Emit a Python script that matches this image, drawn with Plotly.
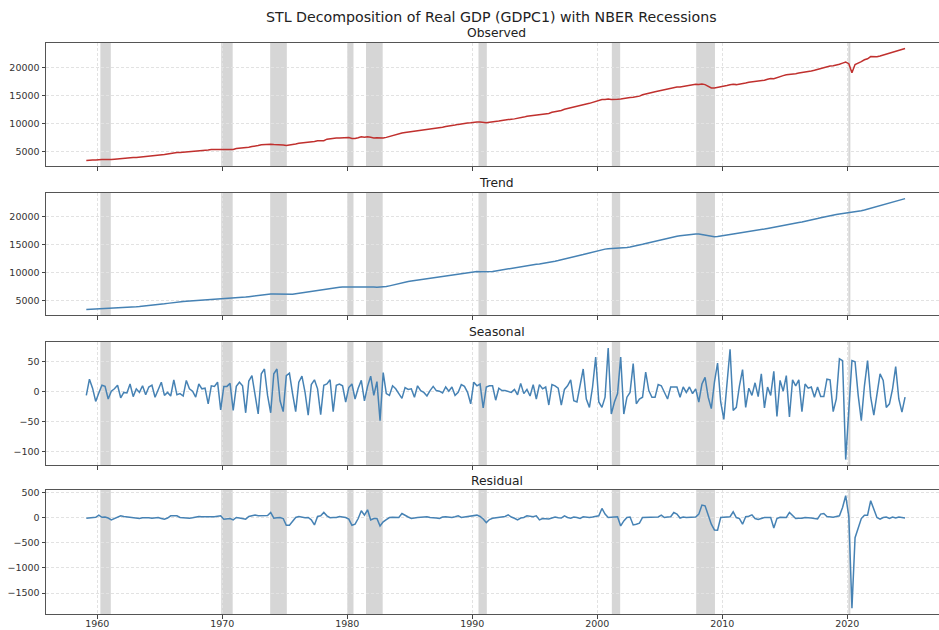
import numpy as np
import pandas as pd
import plotly.graph_objects as go
from plotly.subplots import make_subplots

# ---------------------------------------------------------------------------
# Real GDP (GDPC1, billions of chained 2017 dollars), quarterly 1959Q1-2024Q3,
# and its STL components (trend / seasonal / residual).
# ---------------------------------------------------------------------------
quarters = pd.period_range("1959Q1", "2024Q3", freq="Q")

observed = [
    3352, 3428, 3430, 3440, 3517, 3498, 3515, 3470, 3494, 3553, 3621, 3692,
    3758, 3792, 3839, 3852, 3894, 3938, 4024, 4050, 4136, 4180, 4246, 4259,
    4362, 4417, 4515, 4620, 4732, 4748, 4788, 4827, 4870, 4873, 4919, 4957,
    5058, 5142, 5180, 5202, 5293, 5311, 5346, 5317, 5308, 5317, 5370, 5311,
    5485, 5522, 5580, 5598, 5722, 5853, 5911, 6008, 6164, 6224, 6192, 6256,
    6203, 6206, 6141, 6121, 6025, 6070, 6182, 6277, 6412, 6461, 6494, 6539,
    6611, 6737, 6860, 6861, 6888, 7158, 7247, 7339, 7357, 7363, 7416, 7437,
    7458, 7296, 7280, 7414, 7574, 7506, 7585, 7492, 7375, 7409, 7380, 7383,
    7479, 7652, 7804, 7969, 8133, 8260, 8341, 8409, 8492, 8561, 8708, 8777,
    8876, 8911, 9003, 9041, 9103, 9207, 9284, 9437, 9495, 9624, 9683, 9809,
    9919, 9995, 10078, 10103, 10210, 10244, 10238, 10147, 10100, 10189, 10235, 10284,
    10402, 10514, 10622, 10733, 10743, 10798, 10861, 11012, 11114, 11259, 11320, 11450,
    11485, 11508, 11605, 11696, 11774, 11969, 12067, 12219, 12307, 12514, 12669, 12776,
    12900, 12996, 13150, 13370, 13482, 13580, 13761, 13980, 14020, 14261, 14275, 14357,
    14293, 14368, 14325, 14368, 14493, 14561, 14626, 14655, 14741, 14878, 15131, 15300,
    15390, 15525, 15658, 15792, 15964, 16051, 16182, 16270, 16478, 16515, 16534, 16651,
    16711, 16815, 16927, 17025, 16942, 17038, 16942, 16592, 16346, 16323, 16403, 16561,
    16633, 16776, 16904, 16998, 16938, 17033, 17031, 17226, 17377, 17436, 17465, 17488,
    17664, 17714, 17902, 18047, 17994, 18227, 18446, 18549, 18700, 18812, 18884, 18905,
    19008, 19070, 19172, 19283, 19387, 19503, 19646, 19873, 20061, 20184, 20274, 20307,
    20398, 20580, 20793, 20985, 20693, 19057, 20549, 20772, 21058, 21389, 21571, 21960,
    21904, 21919, 22067, 22250, 22403, 22539, 22781, 22961, 23054, 23224, 23400,
]

trend = [
    3390, 3420, 3445, 3465, 3480, 3490, 3495, 3500, 3515, 3545, 3590, 3640,
    3700, 3755, 3800, 3840, 3880, 3925, 3975, 4025, 4085, 4145, 4205, 4270,
    4340, 4420, 4505, 4590, 4665, 4725, 4780, 4825, 4865, 4900, 4940, 4985,
    5040, 5100, 5155, 5205, 5250, 5285, 5310, 5320, 5330, 5345, 5375, 5410,
    5460, 5515, 5570, 5630, 5705, 5790, 5880, 5970, 6055, 6120, 6160, 6180,
    6180, 6160, 6125, 6095, 6080, 6100, 6160, 6240, 6330, 6410, 6480, 6545,
    6620, 6710, 6800, 6890, 6980, 7080, 7180, 7270, 7340, 7390, 7420, 7430,
    7425, 7415, 7420, 7445, 7480, 7505, 7510, 7480, 7440, 7410, 7405, 7440,
    7520, 7640, 7790, 7950, 8100, 8230, 8340, 8430, 8510, 8590, 8680, 8770,
    8860, 8940, 9010, 9070, 9140, 9220, 9310, 9410, 9510, 9610, 9710, 9810,
    9910, 10000, 10075, 10135, 10180, 10200, 10195, 10175, 10165, 10185, 10240, 10320,
    10420, 10520, 10620, 10705, 10780, 10855, 10940, 11035, 11140, 11245, 11345, 11435,
    11510, 11580, 11655, 11740, 11840, 11950, 12065, 12180, 12300, 12430, 12560, 12690,
    12820, 12960, 13110, 13260, 13410, 13570, 13730, 13880, 14020, 14140, 14230, 14290,
    14320, 14340, 14365, 14400, 14460, 14535, 14620, 14710, 14820, 14950, 15090, 15230,
    15370, 15510, 15650, 15790, 15930, 16060, 16190, 16310, 16420, 16520, 16610, 16700,
    16790, 16870, 16930, 16960, 16950, 16860, 16720, 16580, 16490, 16460, 16480, 16540,
    16630, 16730, 16830, 16920, 17000, 17080, 17170, 17260, 17350, 17440, 17530, 17620,
    17720, 17830, 17940, 18060, 18180, 18300, 18420, 18530, 18640, 18740, 18830, 18920,
    19010, 19100, 19200, 19310, 19430, 19560, 19700, 19840, 19980, 20110, 20230, 20340,
    20440, 20530, 20600, 20660, 20700, 20760, 20850, 20960, 21090, 21230, 21380, 21530,
    21680, 21830, 21980, 22130, 22280, 22430, 22590, 22750, 22920, 23100, 23280,
]

seasonal = [
    -7, 20, 5, -17, -3, 10, 8, -13, 0, 4, 10, -11,
    -2, -3, 12, -9, 4, -2, 9, -6, 7, 10, -10, 2,
    15, -7, -2, -8, 19, -6, -4, -8, 18, 4, 0, -10,
    12, 4, 5, -21, 9, 8, 15, -31, 8, 8, 13, -32,
    8, 15, 9, -36, 17, 26, -7, -38, 29, 37, -7, -36,
    29, 37, -16, -34, 26, 30, -4, -34, 15, 25, -2, -40,
    11, 19, 4, -39, 10, 12, 19, -34, 10, 12, 9, -18,
    6, 12, -13, 5, 18, -16, 8, 25, -7, 16, -49, 31,
    -4, -7, 9, 4, -4, -12, 6, 3, 4, -10, 9, 1,
    -2, -8, 1, 8, 1, 0, -3, 7, 0, 7, -7, -2,
    11, 8, -2, -21, 15, 9, 12, -28, 7, 9, 9, -15,
    5, 1, 1, 0, -2, 3, -6, 13, -4, 3, -8, 11,
    -13, 11, 4, 7, -23, 11, 9, 5, -23, 3, 9, 19,
    -16, -18, 7, 37, -13, -27, 7, 57, -18, -27, -10, 72,
    -38, -18, -4, 57, -38, -10, -2, 46, -21, -13, -10, 32,
    1, -10, -10, 11, 9, -2, -13, 7, 7, 7, -10, 7,
    -2, 7, -4, 4, -18, 12, 23, -10, -29, 15, 47, -18,
    -47, 15, 70, -32, -27, 9, 36, -27, 5, -7, 14, -9,
    29, -28, 7, -7, 33, -42, 18, 0, 26, -43, 19, 9,
    19, -34, 12, 5, 7, -10, 7, -9, -9, 20, 19, -34,
    -13, 54, 51, -114, -30, 51, 49, -7, -49, 9, 51, -10,
    -40, -2, 29, 18, -27, -21, 4, 41, -13, -35, -10,
]

residual = [
    -13, -5, 0, 5, 47, 5, 10, -10, -47, -20, 10, 33,
    20, 10, 5, 0, -10, -20, -5, 0, -5, -15, -10, 0,
    -20, -33, -10, 33, 33, 33, 0, -10, -20, -15, -5, 10,
    20, 15, 15, 10, 13, 15, 25, 33, -33, -25, -20, -47,
    0, -10, -15, -33, 20, 35, 47, 33, 33, 35, 40, 100,
    -13, -5, 0, -20, -153, -153, -67, 0, 20, 10, -5, 0,
    -47, -147, 20, 33, 100, 33, -5, 0, 0, 20, 10, 0,
    -33, -153, -133, -20, 133, 47, 153, -47, -20, -20, -167, -87,
    -40, 0, 5, 10, 0, 80, 40, 10, -20, -5, 0, 5,
    10, 15, 0, 0, -10, -20, 10, 15, 0, 0, 15, 33,
    0, 10, 15, 20, 40, 47, 20, -30, -100, -40, -15, -10,
    -5, 0, 20, 53, 10, -15, -47, -10, 0, 33, 20, 15,
    33, -47, -20, -20, -30, -10, 10, -5, -10, 33, 0, -15,
    10, 0, -20, 15, 0, 0, 10, 15, 33, 180, 67, 0,
    0, 10, 15, -167, -67, 0, 10, -147, -133, -113, 0, 0,
    0, 0, 5, 10, 47, 0, 10, 15, 100, 70, -10, 10,
    0, 0, 0, 10, 67, 247, 233, 67, -133, -247, -253, 0,
    10, 10, 15, 113, 0, -20, -133, 15, 25, 53, -20, -40,
    -20, 0, 0, 0, -207, -20, 5, 0, 0, 100, 30, -20,
    -15, -15, 0, 0, -10, -20, -30, 67, 80, 20, 10, 5,
    20, 33, 200, 433, 20, -1800, -400, -200, -20, 47, 47, 333,
    153, 0, -33, 0, 10, -20, 10, -10, 10, 5, -10,
]

# NBER recession periods (peak month, trough month)
recessions = [
    ("1960-04", "1961-02"), ("1969-12", "1970-11"), ("1973-11", "1975-03"),
    ("1980-01", "1980-07"), ("1981-07", "1982-11"), ("1990-07", "1991-03"),
    ("2001-03", "2001-11"), ("2007-12", "2009-06"), ("2020-02", "2020-04"),
]

panel_titles = ["Observed", "Trend", "Seasonal", "Residual"]
decade_ticks = [1960, 1970, 1980, 1990, 2000, 2010, 2020]

for s in (observed, trend, seasonal, residual):
    assert len(s) == len(quarters)

# quarter positions on a decimal-year axis (middle of each quarter)
xq = np.asarray(quarters.year + (quarters.quarter - 1) / 4 + 0.125, dtype=float)


def year_frac(ym):
    ts = pd.Timestamp(ym + "-01")
    return ts.year + (ts.month - 1) / 12


RED = "#c0302e"
BLUE = "#4682b4"
FONT = "DejaVu Sans"
W, H = 939, 630

fig = make_subplots(rows=4, cols=1, shared_xaxes=True)

series = [observed, trend, seasonal, residual]
colors = [RED, BLUE, BLUE, BLUE]
for r, (vals, col) in enumerate(zip(series, colors), start=1):
    fig.add_trace(
        go.Scatter(x=xq, y=vals, mode="lines",
                   line=dict(color=col, width=1.5), showlegend=False),
        row=r, col=1,
    )

# panel placement in pixels (top, bottom)
panels_px = [(43, 166), (193, 315), (342, 465), (490, 614)]
left_px = 46
y_ranges = [[2350, 24400], [2420, 24290], [-123, 82], [-1915, 546]]
y_ticks = [
    [5000, 10000, 15000, 20000],
    [5000, 10000, 15000, 20000],
    [-100, -50, 0, 50],
    [-1500, -1000, -500, 0, 500],
]


def fmt(v):
    return ("\u2212" + str(abs(v))) if v < 0 else str(v)


grid = dict(showgrid=True, gridcolor="#e2e2e2", griddash="3px,2px", gridwidth=0.8)
tickfont = dict(family=FONT, size=9.5, color="#333333")

for r in range(1, 5):
    top, bot = panels_px[r - 1]
    xa = "xaxis" if r == 1 else f"xaxis{r}"
    ya = "yaxis" if r == 1 else f"yaxis{r}"
    fig.update_layout({
        xa: dict(
            domain=[left_px / W, 1.0], range=[1955.9, 2027.34],
            tickmode="array", tickvals=decade_ticks,
            ticktext=[str(t) for t in decade_ticks],
            showticklabels=(r == 4), ticks="outside", ticklen=3.5,
            tickwidth=1, tickcolor="#444444", ticklabelstandoff=-3,
            showline=True, linecolor="#555555", linewidth=1, mirror=True,
            zeroline=False, tickfont=tickfont, automargin=False, **grid,
        ),
        ya: dict(
            domain=[1 - bot / H, 1 - top / H], range=y_ranges[r - 1],
            tickmode="array", tickvals=y_ticks[r - 1],
            ticktext=[fmt(v) for v in y_ticks[r - 1]],
            ticks="outside", ticklen=3.5, tickwidth=1, tickcolor="#444444",
            showline=True, linecolor="#555555", linewidth=1, mirror=False,
            zeroline=False, tickfont=tickfont, automargin=False, **grid,
        ),
    })
    xref = "x" if r == 1 else f"x{r}"
    yref = ("y" if r == 1 else f"y{r}") + " domain"
    for start, end in recessions:
        fig.add_shape(
            type="rect", xref=xref, yref=yref,
            x0=year_frac(start), x1=year_frac(end), y0=0, y1=1,
            fillcolor="rgb(214,214,214)", line=dict(width=0), layer="below",
        )

# panel titles
title_centers_px = [33, 183, 332, 481]
for name, yc in zip(panel_titles, title_centers_px):
    fig.add_annotation(
        text=name, xref="paper", yref="paper", x=496.5 / W, y=1 - yc / H,
        xanchor="center", yanchor="middle", showarrow=False,
        font=dict(family=FONT, size=12.3, color="#222222"),
    )

fig.add_annotation(
    text="STL Decomposition of Real GDP (GDPC1) with NBER Recessions",
    xref="paper", yref="paper", x=491 / W, y=1 - 17 / H,
    xanchor="center", yanchor="middle", showarrow=False,
    font=dict(family=FONT, size=14.2, color="#222222"),
)

fig.update_layout(
    width=W, height=H,
    margin=dict(l=0, r=0, t=0, b=0),
    paper_bgcolor="white", plot_bgcolor="white",
    showlegend=False,
)

fig.write_html("out.html")
